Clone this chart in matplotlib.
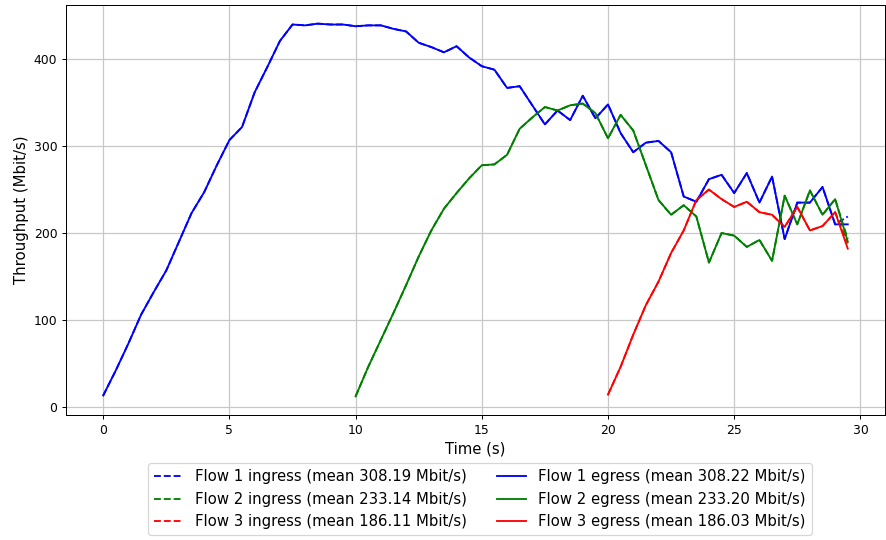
import matplotlib
matplotlib.use("Agg")
import matplotlib.pyplot as plt
import numpy as np

# Flow 1 (t = 0 .. 29.5 s, step 0.5)
t1 = [i * 0.5 for i in range(60)]
flow1_egress = [13, 42, 73, 106, 132, 157, 190, 223, 247, 278,
                307, 322, 362, 391, 421, 440, 439, 441, 440, 440,
                438, 439, 439, 435, 432, 419, 414, 408, 415, 402,
                392, 388, 367, 369, 347, 325, 341, 330, 358, 332,
                348, 315, 293, 304, 306, 293, 242, 236, 262, 267,
                246, 269, 235, 265, 193, 235, 235, 253, 210, 210]
flow1_ingress = flow1_egress[:-1] + [219]

# Flow 2 (t = 10 .. 29.5 s)
t2 = [10 + i * 0.5 for i in range(40)]
flow2_egress = [12, 46, 77, 108, 140, 173, 203, 228, 246, 263,
                278, 279, 290, 320, 333, 345, 341, 347, 349, 338,
                309, 336, 318, 278, 238, 221, 232, 219, 166, 200,
                197, 184, 192, 168, 243, 210, 249, 221, 239, 190]
flow2_ingress = flow2_egress[:-1] + [193]

# Flow 3 (t = 20 .. 29.5 s)
t3 = [20 + i * 0.5 for i in range(20)]
flow3_egress = [14, 46, 83, 117, 144, 177, 203, 238, 250, 239,
                230, 236, 224, 221, 207, 230, 203, 208, 224, 182]
flow3_ingress = flow3_egress[:-1] + [188]

labels_in = ["Flow 1 ingress (mean 308.19 Mbit/s)",
             "Flow 2 ingress (mean 233.14 Mbit/s)",
             "Flow 3 ingress (mean 186.11 Mbit/s)"]
labels_eg = ["Flow 1 egress (mean 308.22 Mbit/s)",
             "Flow 2 egress (mean 233.20 Mbit/s)",
             "Flow 3 egress (mean 186.03 Mbit/s)"]
colors = ["blue", "green", "red"]

DPI = 89
fig = plt.figure(figsize=(886 / DPI, 540 / DPI), dpi=DPI)
ax = fig.add_axes([66 / 886, 1 - 415 / 540, (885 - 66) / 886, (415 - 5) / 540])

times = [t1, t2, t3]
ing = [flow1_ingress, flow2_ingress, flow3_ingress]
egr = [flow1_egress, flow2_egress, flow3_egress]
for i in range(3):
    ax.plot(times[i], ing[i], linestyle="--", color=colors[i], label=labels_in[i])
for i in range(3):
    ax.plot(times[i], egr[i], linestyle="-", color=colors[i], label=labels_eg[i])

ax.set_xlabel("Time (s)", fontsize=12)
ax.set_ylabel("Throughput (Mbit/s)", fontsize=12)
ax.grid(True, color="#c8c8c8", linewidth=1.0)
ax.legend(loc="upper center", bbox_to_anchor=(0.505, -0.1), ncol=2, fontsize=12)

fig.savefig("out.png", dpi=DPI)
